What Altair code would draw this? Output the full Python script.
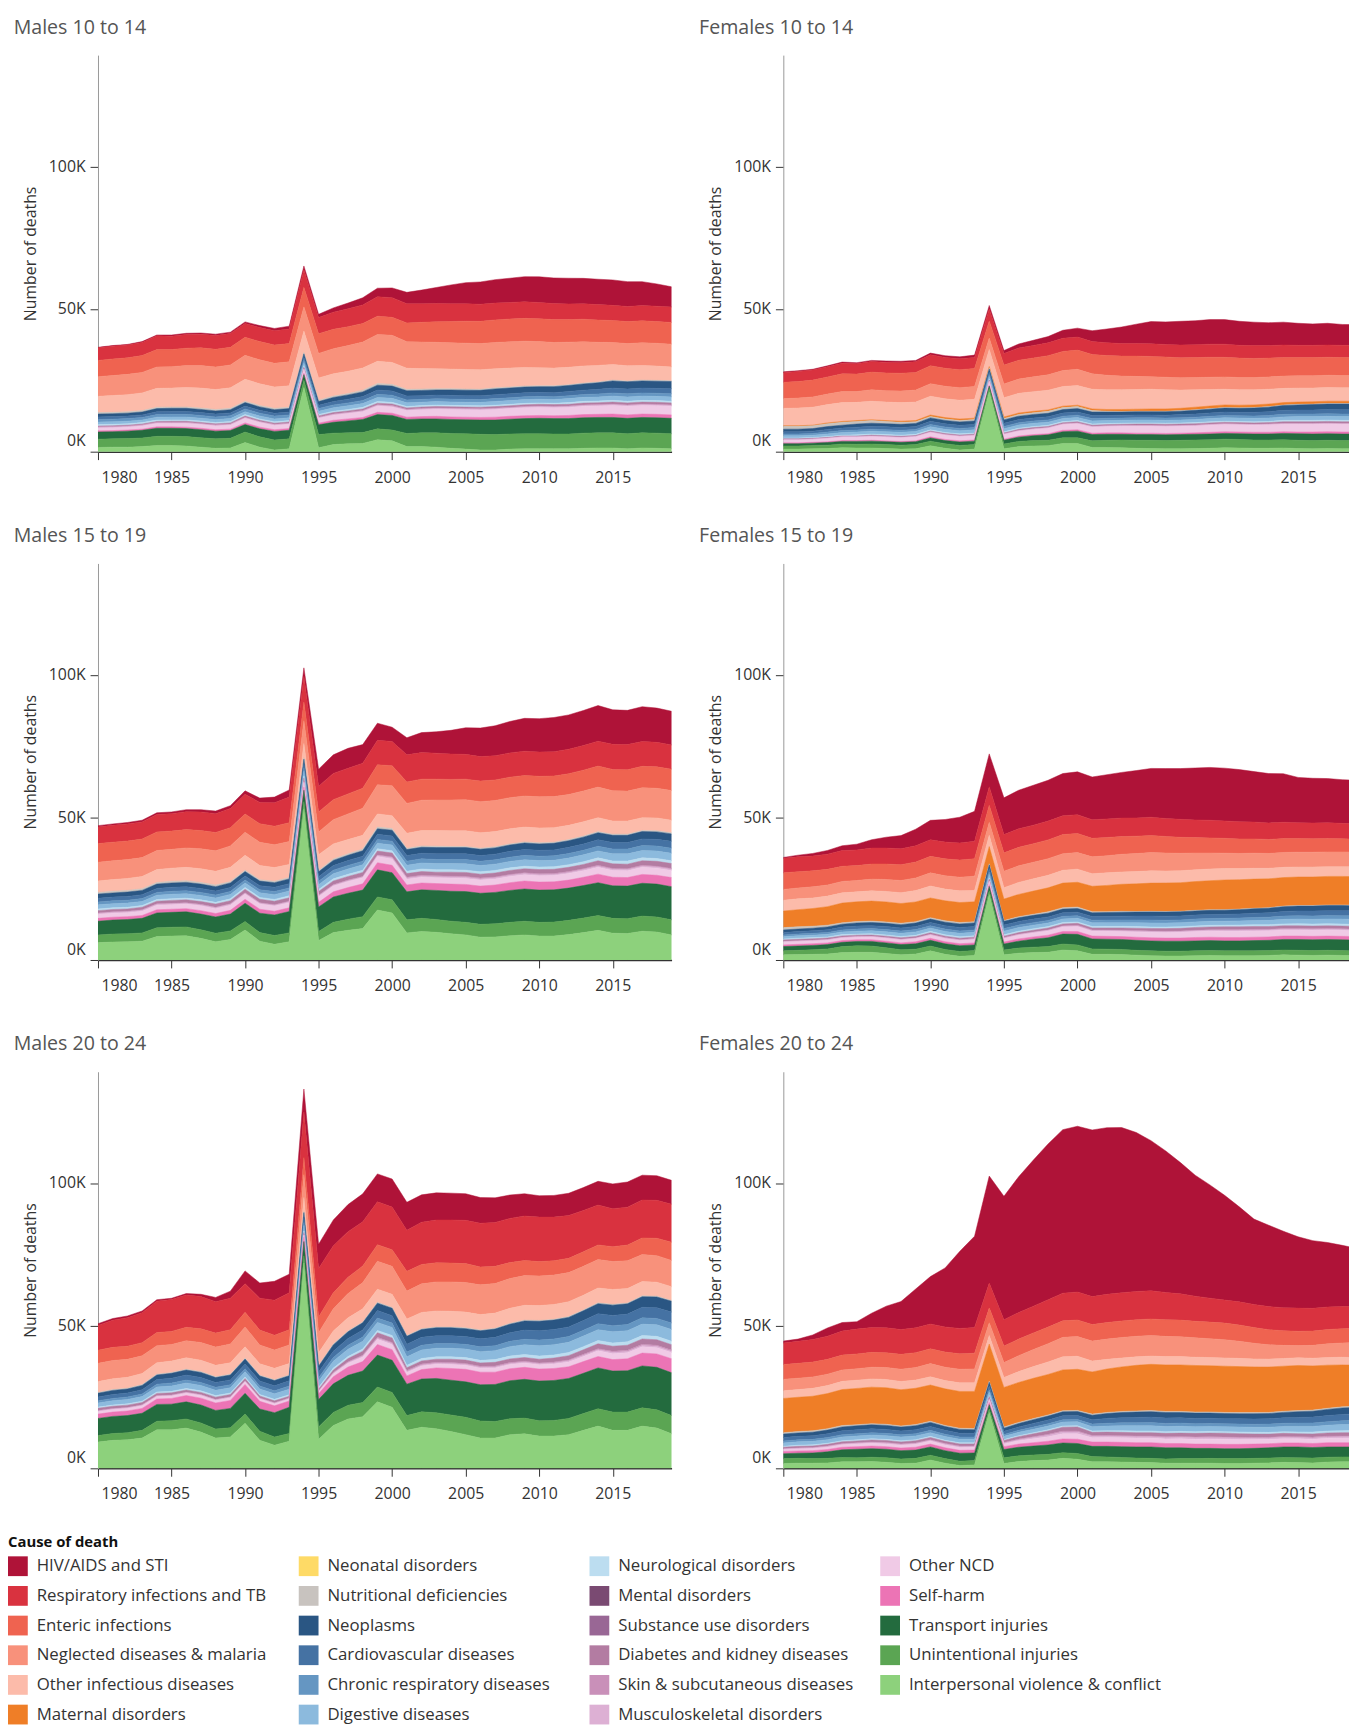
import altair as alt
import pandas as pd

YEARS = list(range(1980, 2020))
CAUSES = ["HIV/AIDS and STI", "Respiratory infections and TB", "Enteric infections",
          "Neglected diseases & malaria", "Other infectious diseases", "Maternal disorders",
          "Neonatal disorders", "Nutritional deficiencies", "Neoplasms", "Cardiovascular diseases",
          "Chronic respiratory diseases", "Digestive diseases", "Neurological disorders",
          "Mental disorders", "Substance use disorders", "Diabetes and kidney diseases",
          "Skin & subcutaneous diseases", "Musculoskeletal disorders", "Other NCD", "Self-harm",
          "Transport injuries", "Unintentional injuries", "Interpersonal violence & conflict"]
COLORS = ["#AF1338", "#D9323F", "#EF6350", "#F8917B", "#FCBBAA", "#EF7E27", "#FEDA66", "#C8C3BF",
          "#2A5683", "#4572A3", "#6596C2", "#8CBADD", "#BCDDF0", "#7A4A72", "#996795", "#B37CA2",
          "#C990B9", "#DDB0D4", "#F0CAE6", "#EC74B5", "#236B3E", "#5BA553", "#8DD17C"]

# ---------------- Males 10 to 14 (thousands) ----------------
MA_HIV = [0.2,0.2,0.2,0.3,0.3,0.4,0.4,0.4,0.5,0.5, 0.6,0.7,0.8,1.0,1.3,1.1,1.5,2.0,2.5,3.0, 3.4,4.0,4.8,5.6,6.6,7.4,7.8,8.2,8.5,8.8, 9.0,9.0,9.0,8.9,8.9,8.9,8.7,8.4,7.8,7.1]
MA_RESP = [4.4,4.5,4.5,4.6,4.8,4.7,4.8,4.8,4.8,4.8, 4.8,4.9,5.0,5.1,6.2,5.7,6.0,6.3,6.5,6.8, 6.9,6.7,6.5,6.4,6.2,6.1,6.0,5.9,5.8,5.8, 5.7,5.6,5.5,5.4,5.4,5.3,5.3,5.3,5.4,5.4]
MA_ENT = [5.7,5.8,5.8,5.9,6.1,6.0,6.1,6.2,6.2,6.2, 6.3,6.4,6.4,6.4,6.8,6.9,6.8,6.6,6.5,6.4, 6.3,6.6,6.9,7.2,7.5,7.7,7.8,7.9,8.0,8.0, 8.0,8.0,7.9,7.9,7.8,7.7,7.7,7.7,7.6,7.6]
MA_NTD = [6.9,7.0,7.1,7.2,7.5,7.5,7.7,7.9,7.9,8.0, 8.4,8.4,8.3,8.4,8.5,8.6,8.8,9.0,9.1,9.4, 9.5,9.3,9.3,9.3,9.2,9.2,9.2,9.2,9.2,9.2, 9.2,9.0,8.8,8.5,8.1,7.7,7.8,8.0,8.0,8.0]
MA_OI = [5.7,5.9,6.0,6.2,6.6,6.6,6.8,7.0,7.0,7.2, 7.7,7.6,7.5,7.5,7.5,7.8,7.8,7.8,7.8,7.8, 7.7,7.4,7.2,7.0,6.9,6.9,6.8,6.7,6.6,6.5, 6.3,6.2,6.1,6.0,5.8,5.5,5.3,5.1,5.0,4.8]
MA_NUT = [0.5,0.5,0.5,0.5,0.5,0.5,0.5,0.5,0.5,0.5, 0.5,0.5,0.5,0.5,0.5,0.5,0.5,0.5,0.6,0.6, 0.6,0.5,0.5,0.4,0.4,0.4,0.4,0.4,0.4,0.4, 0.3,0.3,0.3,0.3,0.3,0.3,0.3,0.3,0.3,0.3]
MA_NEO = [1.0,1.0,1.0,1.0,1.1,1.1,1.1,1.1,1.1,1.1, 1.2,1.2,1.2,1.2,1.2,1.3,1.4,1.5,1.6,1.7, 1.7,1.8,1.8,1.8,1.9,1.9,1.9,2.0,2.0,2.0, 2.0,2.1,2.1,2.2,2.3,2.5,2.5,2.5,2.5,2.5]
MA_CVD = [0.9,0.9,0.9,0.9,1.0,1.0,1.0,1.0,1.0,1.0, 1.0,1.0,1.0,1.0,1.0,1.1,1.2,1.3,1.4,1.5, 1.5,1.4,1.3,1.3,1.3,1.3,1.3,1.4,1.4,1.4, 1.4,1.4,1.5,1.5,1.6,1.7,1.7,1.7,1.7,1.8]
MA_CHR = [0.9,0.9,0.9,0.9,0.9,0.95,0.95,0.95,0.95,1.0, 1.0,1.0,1.0,1.0,1.0,1.0,1.0,1.0,1.1,1.1, 1.1,1.0,1.0,1.0,1.0,1.0,1.0,1.0,1.0,1.0, 1.0,1.0,1.0,1.0,1.1,1.1,1.1,1.1,1.1,1.1]
MA_DIG = [0.9,0.9,0.9,0.9,1.0,1.0,1.0,1.0,1.0,1.0, 1.0,1.0,1.0,1.0,1.0,1.1,1.2,1.3,1.3,1.4, 1.4,1.3,1.2,1.2,1.2,1.2,1.2,1.3,1.3,1.3, 1.3,1.3,1.4,1.4,1.4,1.5,1.5,1.5,1.5,1.5]
MA_NEURO = [0.5,0.5,0.5,0.5,0.5,0.5,0.5,0.5,0.5,0.5, 0.5,0.5,0.5,0.5,0.5,0.5,0.5,0.5,0.6,0.6, 0.6,0.5,0.5,0.5,0.5,0.5,0.5,0.5,0.5,0.5, 0.5,0.5,0.6,0.6,0.6,0.6,0.6,0.6,0.6,0.6]
MA_DIAB = [0.3,0.3,0.3,0.3,0.3,0.35,0.35,0.35,0.35,0.4, 0.4,0.4,0.4,0.4,0.4,0.45,0.5,0.5,0.5,0.55, 0.55,0.5,0.5,0.5,0.5,0.5,0.55,0.55,0.55,0.6, 0.6,0.6,0.6,0.65,0.65,0.7,0.7,0.7,0.7,0.7]
MA_SKIN = [0.2,0.2,0.2,0.2,0.2,0.2,0.2,0.2,0.2,0.2, 0.2,0.2,0.2,0.2,0.2,0.2,0.2,0.2,0.2,0.2, 0.2,0.2,0.2,0.2,0.2,0.2,0.2,0.2,0.2,0.2, 0.2,0.2,0.2,0.2,0.2,0.2,0.2,0.2,0.2,0.2]
MA_MSK = [0.2,0.2,0.2,0.2,0.2,0.2,0.2,0.2,0.2,0.2, 0.2,0.2,0.2,0.2,0.2,0.2,0.2,0.2,0.25,0.25, 0.25,0.25,0.25,0.25,0.25,0.25,0.25,0.25,0.25,0.25, 0.3,0.3,0.3,0.3,0.3,0.3,0.3,0.3,0.3,0.3]
MA_ONCD = [1.0,1.0,1.0,1.1,1.2,1.2,1.3,1.3,1.3,1.4, 1.6,1.6,1.5,1.5,1.3,1.7,1.8,1.9,2.0,2.2, 2.2,2.3,2.4,2.5,2.6,2.6,2.6,2.7,2.7,2.8, 2.8,2.8,2.8,2.9,2.9,3.0,3.0,3.0,3.0,3.0]
MA_SH = [0.4,0.4,0.4,0.4,0.5,0.5,0.5,0.5,0.5,0.5, 0.6,0.6,0.6,0.6,0.5,0.6,0.7,0.7,0.7,0.8, 0.8,0.8,0.8,0.9,0.9,0.9,0.9,1.0,1.0,1.0, 1.0,1.0,1.1,1.1,1.1,1.2,1.2,1.2,1.2,1.2]
MA_TR = [2.5,2.5,2.6,2.7,2.8,2.8,2.8,2.8,2.7,2.7, 2.6,2.8,3.0,3.0,2.0,3.4,3.8,4.2,4.6,5.0, 5.1,4.9,4.9,4.9,4.9,4.9,5.0,5.1,5.2,5.3, 5.4,5.4,5.4,5.4,5.4,5.4,5.4,5.4,5.4,5.4]
MA_UN = [2.9,2.9,3.0,3.0,3.2,3.2,3.3,3.3,3.3,3.4, 3.7,3.6,3.5,3.5,2.5,4.6,4.0,3.8,3.8,3.8, 3.8,4.6,4.8,5.0,5.2,5.4,5.5,5.4,5.3,5.3, 5.3,5.2,5.2,5.3,5.3,5.3,5.3,5.3,5.3,5.3]
MA_VI = [1.5,1.6,1.6,1.8,2.2,2.2,2.0,1.6,1.2,1.3, 3.2,1.6,0.6,1.0,22.5,1.4,2.5,2.8,2.9,4.2, 3.8,1.8,1.8,1.6,1.2,0.9,0.6,0.6,0.9,1.0, 1.0,1.0,1.0,1.2,1.3,1.3,1.0,1.3,1.2,1.0]

# ---------------- Females 10 to 14 ----------------
FA_HIV = [0.3,0.3,0.3,0.3,0.4,0.4,0.4,0.5,0.5,0.5, 0.6,0.6,0.7,0.8,1.2,1.0,1.4,1.8,2.2,2.8, 3.1,3.8,4.8,5.8,6.8,7.8,7.9,8.3,8.4,8.6, 8.6,8.4,8.2,8.0,8.0,7.7,7.5,7.6,7.3,7.2]
FA_RESP = [3.4,3.5,3.5,3.6,3.7,3.6,3.7,3.7,3.7,3.7, 3.8,3.8,3.8,3.9,4.2,4.1,4.3,4.4,4.5,4.6, 4.6,4.5,4.5,4.4,4.4,4.4,4.4,4.5,4.5,4.6, 4.6,4.5,4.5,4.4,4.4,4.3,4.3,4.3,4.3,4.3]
FA_ENT = [5.7,5.8,5.9,6.0,6.2,6.1,6.2,6.2,6.2,6.2, 6.3,6.3,6.3,6.3,6.0,6.6,6.6,6.6,6.7,6.7, 6.7,6.8,6.9,7.0,7.1,7.1,7.1,7.0,7.0,7.0, 6.9,6.8,6.7,6.6,6.5,6.4,6.4,6.3,6.3,6.3]
FA_NTD = [3.4,3.5,3.6,3.7,3.9,3.8,4.0,4.0,4.1,4.2, 4.4,4.4,4.4,4.5,4.0,4.8,5.0,5.2,5.4,5.6, 5.7,5.4,5.1,4.8,4.6,4.4,4.4,4.3,4.3,4.3, 4.3,4.3,4.3,4.3,4.3,4.3,4.3,4.3,4.3,4.3]
FA_OI = [6.1,6.2,6.3,6.4,6.6,6.4,6.5,6.5,6.5,6.5, 6.6,6.6,6.6,6.6,6.0,6.8,6.9,6.9,6.9,6.9, 6.9,6.9,6.9,6.9,6.9,6.9,6.7,6.4,6.1,5.8, 5.5,5.4,5.3,5.2,5.0,4.9,4.8,4.8,4.7,4.7]
FA_MAT = [0.2,0.2,0.2,0.3,0.3,0.3,0.3,0.3,0.4,0.4, 0.5,0.5,0.5,0.5,0.4,0.5,0.5,0.5,0.5,0.5, 0.5,0.6,0.6,0.7,0.7,0.8,0.8,0.8,0.9,0.9, 0.9,0.9,0.9,0.9,0.8,0.8,0.8,0.8,0.8,0.8]
FA_NUT = [1.0,1.0,1.0,1.0,1.0,0.9,0.9,0.8,0.7,0.6, 0.5,0.5,0.5,0.5,0.5,0.5,0.6,0.6,0.7,0.7, 0.7,0.5,0.3,0.2,0.2,0.2,0.2,0.2,0.2,0.2, 0.2,0.2,0.2,0.2,0.2,0.2,0.2,0.2,0.2,0.2]
FA_NEO = [0.9,0.9,0.9,1.0,1.0,1.1,1.1,1.1,1.1,1.1, 1.2,1.2,1.2,1.2,1.0,1.2,1.2,1.2,1.2,1.2, 1.2,1.2,1.2,1.1,1.1,1.1,1.2,1.2,1.3,1.3, 1.4,1.4,1.5,1.6,1.7,1.8,1.9,1.9,2.0,2.0]
FA_CVD = [0.8,0.8,0.8,0.9,0.9,1.0,1.0,1.0,1.0,1.0, 1.1,1.1,1.1,1.1,0.9,1.1,1.1,1.1,1.1,1.1, 1.1,1.1,1.0,1.0,1.0,1.0,1.0,1.1,1.1,1.2, 1.2,1.2,1.3,1.3,1.4,1.4,1.4,1.5,1.5,1.5]
FA_CHR = [0.6,0.6,0.6,0.7,0.7,0.7,0.7,0.7,0.7,0.7, 0.8,0.8,0.8,0.8,0.7,0.8,0.8,0.8,0.8,0.8, 0.8,0.8,0.8,0.8,0.8,0.8,0.8,0.8,0.8,0.8, 0.8,0.8,0.8,0.9,0.9,0.9,0.9,0.9,0.9,0.9]
FA_DIG = [0.8,0.8,0.8,0.9,0.9,1.0,1.0,1.0,1.0,1.0, 1.1,1.1,1.1,1.1,0.9,1.1,1.1,1.1,1.1,1.1, 1.1,1.1,1.0,1.0,1.0,1.0,1.0,1.0,1.1,1.1, 1.2,1.2,1.2,1.2,1.2,1.3,1.3,1.3,1.3,1.3]
FA_NEURO = [0.3,0.3,0.3,0.3,0.3,0.4,0.4,0.4,0.4,0.4, 0.4,0.4,0.4,0.4,0.3,0.4,0.4,0.4,0.4,0.4, 0.4,0.4,0.4,0.4,0.4,0.4,0.4,0.4,0.4,0.4, 0.4,0.4,0.4,0.4,0.5,0.5,0.5,0.5,0.5,0.5]
FA_DIAB = [0.2,0.2,0.2,0.2,0.2,0.2,0.3,0.3,0.3,0.3, 0.3,0.3,0.3,0.3,0.3,0.3,0.4,0.4,0.4,0.4, 0.4,0.4,0.4,0.4,0.5,0.5,0.5,0.5,0.5,0.5, 0.5,0.5,0.5,0.5,0.6,0.6,0.6,0.6,0.6,0.6]
FA_SKIN = [0.1,0.1,0.1,0.1,0.1,0.1,0.1,0.1,0.1,0.1, 0.1,0.1,0.1,0.1,0.1,0.1,0.1,0.1,0.1,0.1, 0.1,0.1,0.1,0.1,0.1,0.1,0.1,0.1,0.1,0.1, 0.1,0.1,0.1,0.1,0.1,0.1,0.1,0.1,0.1,0.1]
FA_MSK = [0.1,0.1,0.1,0.1,0.1,0.1,0.1,0.1,0.1,0.1, 0.15,0.15,0.15,0.15,0.15,0.15,0.15,0.15,0.15,0.15, 0.2,0.2,0.2,0.2,0.2,0.2,0.2,0.2,0.2,0.2, 0.2,0.2,0.2,0.2,0.2,0.2,0.2,0.2,0.2,0.2]
FA_ONCD = [1.0,1.0,1.0,1.1,1.2,1.2,1.3,1.3,1.3,1.4, 1.5,1.5,1.5,1.5,1.3,1.6,1.7,1.8,1.9,2.0, 2.1,2.1,2.2,2.3,2.4,2.4,2.4,2.4,2.4,2.5, 2.5,2.5,2.5,2.6,2.6,2.7,2.7,2.7,2.7,2.7]
FA_SH = [0.3,0.3,0.3,0.3,0.3,0.3,0.3,0.3,0.3,0.3, 0.4,0.4,0.4,0.4,0.3,0.4,0.4,0.4,0.4,0.5, 0.5,0.5,0.5,0.5,0.5,0.5,0.5,0.5,0.5,0.6, 0.6,0.6,0.6,0.6,0.6,0.6,0.7,0.7,0.7,0.7]
FA_TR = [0.8,0.8,0.8,0.9,0.9,1.0,1.0,1.0,1.0,1.0, 1.1,1.1,1.2,1.2,0.8,1.3,1.5,1.7,1.9,2.1, 2.3,2.2,2.1,2.0,2.0,2.0,2.0,2.0,2.0,2.0, 2.0,2.0,2.1,2.1,2.2,2.3,2.3,2.3,2.3,2.3]
FA_UN = [1.1,1.1,1.2,1.2,1.3,1.3,1.4,1.4,1.4,1.5, 1.6,1.6,1.6,1.6,1.2,1.7,1.8,1.9,1.9,2.0, 2.0,2.3,2.5,2.7,2.8,2.9,2.9,3.0,3.0,3.0, 3.0,3.0,2.9,2.9,2.9,2.9,2.9,2.9,2.9,2.9]
FA_VI = [0.9,0.9,1.0,1.1,1.4,1.3,1.3,1.1,0.9,1.0, 2.1,1.2,0.6,0.9,21.0,1.0,1.8,2.0,2.1,2.9, 2.9,1.5,1.5,1.4,1.2,1.1,1.0,1.0,1.1,1.2, 1.4,1.3,1.2,1.2,1.3,1.1,1.0,1.1,1.0,1.0]

# ---------------- Males 15 to 19 ----------------
MB_HIV = [0.5,0.5,0.5,0.6,0.6,0.6,0.7,0.8,0.9,1.0, 1.2,1.5,2.0,2.5,3.0,6.0,6.5,7.0,6.5,6.0, 5.0,6.0,7.0,7.5,8.3,9.3,10.0,10.5,11.0,11.5, 11.7,12.0,12.0,12.3,12.5,12.1,12.0,12.2,12.0,11.8]
MB_RESP = [5.8,5.9,6.0,6.0,6.1,6.1,6.3,6.5,6.6,6.7, 6.9,7.5,8.2,9.0,9.0,9.0,9.2,9.0,8.8,8.6, 8.5,9.5,9.3,9.1,8.9,8.7,8.6,8.5,8.5,8.5, 8.5,8.5,8.6,8.6,8.7,8.8,8.8,8.7,8.6,8.5]
MB_ENT = [6.5,6.5,6.5,6.5,6.5,6.4,6.4,6.4,6.4,6.4, 6.4,6.5,6.5,6.6,6.5,7.0,7.0,7.0,7.0,7.0, 7.0,7.5,7.4,7.3,7.2,7.2,7.2,7.2,7.2,7.2, 7.2,7.2,7.3,7.3,7.4,7.5,7.5,7.5,7.5,7.5]
MB_NTD = [6.6,6.6,6.6,6.6,6.7,6.6,6.8,7.0,7.2,7.5, 8.1,8.1,8.0,8.0,8.0,8.0,8.5,9.0,9.5,10.2, 10.5,10.5,10.6,10.7,10.8,10.9,10.9,10.9,10.9,10.9, 10.9,10.9,10.8,10.8,10.7,10.6,10.5,10.5,10.4,10.4]
MB_OI = [4.0,4.1,4.2,4.3,4.5,4.6,4.7,4.8,4.8,5.0, 5.2,5.0,4.8,4.6,5.0,5.5,5.3,5.0,4.8,4.6, 4.5,5.2,5.4,5.5,5.5,5.5,5.4,5.3,5.3,5.2, 5.2,5.1,5.0,5.0,4.9,4.6,4.6,4.5,4.5,4.4]
MB_NUT = [0.6,0.6,0.6,0.6,0.6,0.6,0.6,0.6,0.6,0.5, 0.5,0.5,0.5,0.5,0.5,0.5,0.5,0.5,0.6,0.6, 0.6,0.5,0.5,0.5,0.4,0.4,0.4,0.4,0.4,0.4, 0.4,0.4,0.4,0.4,0.4,0.4,0.4,0.4,0.4,0.4]
MB_NEO = [1.45,1.45,1.5,1.5,1.5,1.5,1.5,1.5,1.5,1.55, 1.55,1.6,1.6,1.65,1.65,1.7,1.8,1.85,1.9,1.95, 2.0,2.1,2.1,2.15,2.15,2.2,2.2,2.2,2.2,2.25, 2.25,2.3,2.3,2.4,2.45,2.5,2.5,2.55,2.6,2.6]
MB_CVD = [1.3,1.3,1.35,1.35,1.4,1.4,1.4,1.4,1.4,1.4, 1.4,1.45,1.5,1.5,1.5,1.6,1.65,1.7,1.75,1.8, 1.85,1.95,1.95,2.0,2.0,2.0,2.0,2.0,2.05,2.05, 2.05,2.1,2.15,2.2,2.25,2.3,2.3,2.35,2.35,2.4]
MB_CHR = [1.0,1.0,1.0,1.0,1.0,1.05,1.05,1.05,1.05,1.05, 1.05,1.05,1.1,1.1,1.1,1.2,1.2,1.25,1.3,1.3, 1.35,1.45,1.45,1.45,1.45,1.5,1.5,1.5,1.5,1.55, 1.55,1.55,1.6,1.6,1.65,1.7,1.7,1.75,1.75,1.8]
MB_DIG = [1.45,1.45,1.45,1.45,1.5,1.55,1.55,1.55,1.55,1.55, 1.55,1.6,1.65,1.65,1.65,1.7,1.8,1.85,1.9,1.95, 2.0,2.1,2.1,2.15,2.15,2.2,2.2,2.2,2.25,2.25, 2.25,2.25,2.35,2.4,2.45,2.5,2.5,2.55,2.6,2.6]
MB_NEURO = [0.6,0.6,0.6,0.6,0.6,0.6,0.6,0.6,0.6,0.65, 0.65,0.65,0.65,0.7,0.7,0.7,0.75,0.75,0.75,0.8, 0.8,0.8,0.9,0.85,0.85,0.8,0.8,0.9,0.9,0.9, 0.9,0.9,0.9,0.95,1.0,1.0,1.1,1.0,1.0,1.0]
MB_DIAB = [0.8,0.8,0.8,0.9,0.9,1.0,1.0,1.0,1.1,1.1, 1.2,1.2,1.2,1.2,1.1,1.3,1.3,1.3,1.4,1.4, 1.4,1.3,1.3,1.3,1.4,1.4,1.4,1.4,1.4,1.4, 1.5,1.5,1.5,1.5,1.6,1.6,1.6,1.6,1.7,1.7]
MB_SKIN = [0.2,0.2,0.2,0.2,0.2,0.2,0.2,0.2,0.2,0.2, 0.2,0.2,0.2,0.2,0.2,0.2,0.2,0.2,0.2,0.2, 0.3,0.3,0.3,0.3,0.3,0.3,0.3,0.3,0.3,0.3, 0.3,0.3,0.3,0.3,0.3,0.3,0.3,0.3,0.3,0.3]
MB_MSK = [0.3,0.3,0.3,0.3,0.3,0.3,0.3,0.3,0.3,0.3, 0.3,0.3,0.3,0.3,0.3,0.3,0.3,0.3,0.3,0.3, 0.4,0.4,0.4,0.4,0.4,0.4,0.4,0.4,0.4,0.4, 0.4,0.4,0.4,0.4,0.4,0.4,0.4,0.4,0.4,0.4]
MB_ONCD = [1.4,1.4,1.4,1.5,1.6,1.6,1.6,1.7,1.7,1.8, 1.8,1.8,1.8,1.8,1.6,2.0,2.0,2.1,2.1,2.2, 2.2,2.0,2.0,2.0,2.1,2.1,2.1,2.1,2.2,2.2, 2.2,2.2,2.3,2.3,2.4,2.4,2.4,2.5,2.5,2.5]
MB_SH = [1.0,1.0,1.0,1.0,1.1,1.1,1.1,1.2,1.2,1.3, 1.4,1.4,1.3,1.3,1.1,1.6,1.8,2.0,2.2,2.5, 2.6,2.4,2.4,2.4,2.5,2.5,2.5,2.6,2.7,2.8, 2.8,2.8,2.8,2.9,3.0,3.0,3.0,3.1,3.1,3.2]
MB_TR = [4.8,4.9,5.0,5.1,5.2,5.2,5.3,5.5,5.7,5.9, 6.4,6.8,7.2,7.5,4.0,8.6,8.9,9.1,9.3,9.5, 9.5,9.8,10.0,10.2,10.5,10.8,10.9,11.0,11.2,11.3, 11.3,11.3,11.3,11.4,11.5,11.4,11.4,11.5,11.5,11.6]
MB_UN = [2.7,2.8,2.8,2.9,3.1,3.1,3.1,3.0,3.0,3.0, 3.0,3.0,3.1,3.1,2.5,3.2,3.6,3.9,4.2,4.6, 4.6,4.6,4.6,4.5,4.4,4.4,4.5,4.6,4.7,4.8, 4.8,4.9,5.0,5.1,5.2,5.2,5.2,5.3,5.3,5.3]
MB_VI = [6.1,6.3,6.4,6.6,8.2,8.4,8.5,7.6,6.4,7.2, 10.5,6.6,5.5,6.4,53.0,6.8,9.6,10.4,11.0,17.5, 16.5,9.5,10.0,9.7,9.2,8.8,8.0,8.1,8.5,8.8, 8.4,8.4,8.9,9.6,10.4,9.4,9.3,10.1,9.8,8.8]

# ---------------- Females 15 to 19 ----------------
FB_HIV = [0.3,0.6,0.9,1.3,1.7,2.0,2.9,3.8,4.6,5.8, 6.8,7.9,9.0,10.5,11.5,12.9,13.5,14.0,14.3,14.8, 15.0,15.0,15.5,16.0,16.6,17.1,17.5,17.8,18.2,18.5, 18.5,18.3,17.7,17.3,17.0,15.9,15.7,15.5,15.3,15.2]
FB_RESP = [5.1,5.2,5.2,5.3,5.5,5.5,5.6,5.6,5.6,5.7, 5.8,5.9,6.0,6.1,6.5,6.4,6.5,6.5,6.6,6.6, 6.6,6.5,6.5,6.5,6.4,6.4,6.3,6.3,6.2,6.2, 6.1,6.0,5.9,5.8,5.7,5.5,5.5,5.5,5.4,5.4]
FB_ENT = [5.8,5.7,5.6,5.5,5.3,5.2,5.3,5.4,5.5,5.6, 5.8,5.9,6.0,6.1,6.0,6.4,6.5,6.5,6.6,6.7, 6.7,6.5,6.4,6.2,6.1,6.0,5.8,5.6,5.4,5.3, 5.2,5.1,5.0,4.9,4.9,4.8,4.7,4.7,4.6,4.6]
FB_NTD = [3.8,3.8,3.9,3.9,4.0,4.0,4.1,4.2,4.3,4.4, 4.6,4.7,4.8,5.0,4.5,5.8,5.8,5.8,5.8,5.8, 5.8,5.9,6.0,6.2,6.3,6.4,6.3,6.1,5.9,5.6, 5.4,5.3,5.3,5.2,5.2,5.2,5.2,5.2,5.2,5.2]
FB_OI = [3.8,3.8,3.7,3.7,3.6,3.5,3.6,3.7,3.8,4.0, 4.2,4.1,4.1,4.0,4.0,4.0,4.2,4.3,4.4,4.5, 4.6,4.4,4.4,4.3,4.3,4.3,4.2,4.2,4.1,4.1, 4.0,3.9,3.8,3.7,3.6,3.5,3.5,3.4,3.4,3.4]
FB_MAT = [5.8,6.0,6.2,6.5,6.9,6.9,7.0,7.0,6.9,6.9, 6.9,7.0,7.0,7.0,6.0,7.5,7.8,8.1,8.4,8.6, 8.7,8.9,9.2,9.5,9.7,9.9,10.0,10.0,10.1,10.2, 10.4,10.3,10.2,10.1,10.0,10.0,10.0,10.0,10.0,10.0]
FB_NUT = [0.8,0.8,0.7,0.6,0.5,0.5,0.5,0.5,0.5,0.5, 0.5,0.5,0.5,0.4,0.4,0.3,0.4,0.4,0.5,0.5, 0.5,0.4,0.3,0.3,0.2,0.2,0.2,0.2,0.2,0.2, 0.2,0.2,0.2,0.2,0.2,0.2,0.2,0.2,0.2,0.2]
FB_NEO = [0.9,0.9,0.9,1.0,1.0,1.1,1.1,1.1,1.15,1.2, 1.2,1.2,1.25,1.25,1.25,1.3,1.3,1.3,1.3,1.3, 1.3,1.3,1.35,1.4,1.4,1.45,1.45,1.45,1.45,1.45, 1.45,1.5,1.55,1.6,1.7,1.7,1.75,1.8,1.8,1.8]
FB_CVD = [0.85,0.85,0.9,0.95,1.0,1.05,1.05,1.1,1.1,1.1, 1.15,1.2,1.2,1.2,1.2,1.25,1.25,1.25,1.25,1.25, 1.25,1.3,1.3,1.3,1.35,1.4,1.4,1.4,1.4,1.4, 1.4,1.45,1.5,1.55,1.6,1.65,1.7,1.7,1.75,1.75]
FB_CHR = [0.6,0.6,0.65,0.65,0.7,0.75,0.75,0.75,0.8,0.8, 0.8,0.85,0.85,0.85,0.85,0.9,0.9,0.9,0.9,0.9, 0.9,0.9,0.9,0.95,0.95,1.0,1.0,1.0,1.0,1.0, 1.0,1.0,1.05,1.1,1.15,1.2,1.2,1.2,1.2,1.2]
FB_DIG = [0.8,0.85,0.85,0.9,0.95,1.0,1.05,1.1,1.1,1.15, 1.15,1.15,1.2,1.2,1.2,1.25,1.25,1.25,1.25,1.25, 1.25,1.3,1.3,1.3,1.4,1.4,1.4,1.4,1.4,1.4, 1.4,1.45,1.5,1.55,1.6,1.65,1.65,1.7,1.75,1.75]
FB_NEURO = [0.35,0.4,0.4,0.4,0.45,0.4,0.45,0.45,0.45,0.45, 0.5,0.5,0.5,0.5,0.5,0.5,0.5,0.5,0.5,0.5, 0.5,0.5,0.55,0.55,0.55,0.55,0.55,0.55,0.55,0.55, 0.55,0.6,0.6,0.6,0.65,0.7,0.7,0.7,0.7,0.7]
FB_DIAB = [0.5,0.5,0.5,0.5,0.45,0.45,0.45,0.5,0.5,0.5, 0.5,0.5,0.5,0.5,0.5,0.5,0.55,0.6,0.65,0.7, 0.7,0.7,0.75,0.8,0.85,0.9,0.9,0.95,0.95,1.0, 1.0,1.0,1.0,0.95,0.95,0.95,0.95,0.95,0.95,0.95]
FB_SKIN = [0.1,0.1,0.1,0.1,0.1,0.1,0.1,0.1,0.1,0.1, 0.15,0.15,0.15,0.15,0.15,0.15,0.15,0.15,0.15,0.15, 0.2,0.2,0.2,0.2,0.2,0.2,0.2,0.2,0.2,0.2, 0.25,0.25,0.25,0.25,0.25,0.25,0.25,0.25,0.25,0.25]
FB_MSK = [0.15,0.15,0.15,0.15,0.15,0.15,0.15,0.15,0.15,0.15, 0.2,0.2,0.2,0.2,0.2,0.2,0.2,0.2,0.2,0.2, 0.25,0.25,0.25,0.25,0.25,0.25,0.25,0.25,0.25,0.25, 0.3,0.3,0.3,0.3,0.3,0.3,0.3,0.3,0.3,0.3]
FB_ONCD = [1.0,1.0,1.0,0.95,0.95,0.9,0.95,1.0,1.05,1.1, 1.1,1.1,1.1,1.15,1.1,1.2,1.3,1.4,1.5,1.6, 1.7,1.7,1.75,1.8,1.85,1.9,1.95,2.0,2.1,2.15, 2.2,2.2,2.2,2.15,2.1,2.1,2.1,2.1,2.1,2.1]
FB_SH = [0.6,0.6,0.6,0.6,0.6,0.6,0.6,0.6,0.6,0.7, 0.7,0.7,0.7,0.7,0.6,0.7,0.8,0.8,0.9,0.9, 1.0,1.0,1.0,1.0,1.1,1.1,1.1,1.1,1.2,1.2, 1.2,1.2,1.2,1.2,1.2,1.2,1.2,1.2,1.2,1.2]
FB_TR = [1.5,1.5,1.5,1.5,1.5,1.5,1.6,1.7,1.8,1.9, 2.0,2.0,2.0,2.0,1.5,2.1,2.4,2.8,3.1,3.5, 3.7,3.5,3.5,3.5,3.5,3.5,3.5,3.5,3.5,3.5, 3.5,3.5,3.6,3.6,3.7,3.8,3.8,3.8,3.8,3.8]
FB_UN = [1.4,1.5,1.6,1.8,2.1,2.3,2.2,2.0,1.8,1.7, 1.7,1.7,1.7,1.7,1.3,1.7,1.8,1.9,2.0,2.1, 2.1,1.9,1.8,1.8,1.7,1.7,1.7,1.7,1.7,1.7, 1.7,1.7,1.7,1.7,1.7,1.7,1.7,1.7,1.7,1.7]
FB_VI = [1.8,1.9,2.0,2.1,2.6,2.7,2.7,2.3,1.8,2.1, 3.2,2.0,1.3,1.6,23.0,1.8,2.4,2.6,2.7,3.5, 3.2,2.0,2.0,1.9,1.7,1.5,1.4,1.4,1.5,1.6, 1.5,1.5,1.5,1.6,1.8,1.7,1.6,1.7,1.6,1.5]

# ---------------- Males 20 to 24 ----------------
MC_HIV = [0.6,0.6,0.6,0.6,0.5,0.4,0.5,0.8,1.5,2.5, 4.5,5.3,6.6,6.5,8.0,8.5,9.0,9.5,9.8,9.8, 9.8,9.8,9.6,9.5,9.4,9.3,9.0,8.6,8.2,7.8, 7.5,7.6,7.8,8.0,8.3,8.7,8.8,8.7,8.6,8.4]
MC_RESP = [8.7,9.5,10.0,10.5,11.0,11.2,11.3,11.3,11.0,11.0, 10.0,11.2,12.3,13.0,16.0,17.0,16.5,16.0,15.5,15.0, 15.0,14.4,14.8,15.0,15.1,15.2,15.3,15.4,15.5,15.6, 15.6,15.3,15.0,14.5,14.0,13.3,13.3,13.3,13.3,13.3]
MC_ENT = [4.6,4.6,4.6,4.6,4.6,4.6,4.7,4.8,4.9,5.0, 5.2,5.2,5.2,5.3,6.0,5.5,5.6,5.7,5.8,5.8, 5.8,6.9,6.8,6.7,6.6,6.6,6.3,6.0,5.6,5.3, 5.0,5.0,5.0,5.1,5.1,5.2,5.5,5.8,6.1,6.4]
MC_NTD = [6.4,6.4,6.3,6.2,6.0,5.8,6.0,6.2,6.4,6.6, 6.9,6.6,6.4,6.5,8.0,7.0,7.8,8.5,9.2,9.8, 9.8,9.8,10.0,10.2,10.3,10.4,10.4,10.4,10.4,10.4, 10.4,10.3,10.2,10.1,10.0,9.8,9.7,9.5,9.3,9.2]
MC_OI = [3.8,3.8,3.8,3.9,4.0,4.0,4.0,4.0,4.0,4.0, 4.0,4.0,4.0,4.0,5.0,4.5,4.6,4.6,4.6,4.6, 4.6,5.8,5.7,5.6,5.5,5.5,5.4,5.3,5.3,5.2, 5.2,5.2,5.2,5.2,5.2,5.2,5.1,5.0,4.9,4.8]
MC_NUT = [0.3,0.3,0.3,0.3,0.3,0.3,0.3,0.3,0.3,0.3, 0.3,0.3,0.3,0.3,0.3,0.3,0.3,0.3,0.3,0.3, 0.3,0.3,0.3,0.3,0.3,0.3,0.3,0.3,0.3,0.3, 0.3,0.3,0.3,0.3,0.3,0.3,0.3,0.3,0.3,0.3]
MC_NEO = [1.3,1.4,1.4,1.5,1.6,1.7,1.75,1.75,1.7,1.7, 1.7,1.75,1.8,1.8,1.75,2.0,2.2,2.35,2.5,2.6, 2.6,2.75,2.75,2.75,2.75,2.75,2.8,2.9,3.0,3.2, 3.3,3.3,3.35,3.4,3.5,3.6,3.6,3.7,3.75,3.8]
MC_CVD = [1.3,1.4,1.4,1.5,1.6,1.7,1.75,1.75,1.7,1.7, 1.7,1.75,1.8,1.8,1.75,2.0,2.2,2.35,2.5,2.6, 2.6,2.75,2.75,2.75,2.75,2.75,2.8,2.9,3.0,3.2, 3.3,3.3,3.35,3.4,3.5,3.6,3.6,3.7,3.75,3.8]
MC_CHR = [0.8,0.8,0.85,0.9,1.0,1.05,1.05,1.05,1.05,1.05, 1.05,1.05,1.05,1.1,1.05,1.2,1.3,1.4,1.5,1.55, 1.55,1.65,1.65,1.65,1.65,1.65,1.7,1.75,1.85,1.9, 2.0,2.0,2.0,2.05,2.1,2.15,2.2,2.2,2.25,2.3]
MC_DIG = [1.45,1.5,1.55,1.6,1.75,1.85,1.9,1.9,1.85,1.85, 1.85,1.9,1.9,1.95,1.9,2.15,2.4,2.55,2.65,2.8, 2.8,3.0,3.0,3.0,3.0,3.0,3.05,3.15,3.3,3.45, 3.6,3.6,3.6,3.7,3.8,3.9,3.9,4.0,4.05,4.1]
MC_NEURO = [0.4,0.45,0.45,0.5,0.5,0.55,0.55,0.55,0.55,0.55, 0.55,0.55,0.55,0.55,0.55,0.65,0.7,0.75,0.8,0.85, 0.85,0.85,0.85,0.85,0.85,0.85,0.9,0.95,1.0,1.05, 1.1,1.1,1.1,1.1,1.15,1.15,1.2,1.2,1.2,1.2]
MC_DIAB = [0.8,0.8,0.8,0.8,0.75,0.75,0.75,0.75,0.8,0.8, 0.8,0.7,0.65,0.6,0.6,0.6,0.9,1.1,1.4,1.6, 1.6,1.0,1.1,1.1,1.2,1.2,1.2,1.3,1.3,1.3, 1.3,1.4,1.5,1.6,1.7,1.8,1.8,1.9,1.9,1.9]
MC_SKIN = [0.15,0.15,0.15,0.15,0.15,0.15,0.15,0.15,0.15,0.15, 0.15,0.15,0.15,0.15,0.15,0.15,0.2,0.25,0.3,0.3, 0.3,0.3,0.3,0.3,0.3,0.3,0.3,0.3,0.3,0.3, 0.3,0.3,0.3,0.35,0.35,0.35,0.4,0.4,0.4,0.4]
MC_MSK = [0.2,0.2,0.2,0.2,0.2,0.2,0.2,0.2,0.2,0.2, 0.2,0.2,0.2,0.2,0.2,0.2,0.25,0.3,0.35,0.4, 0.4,0.35,0.35,0.35,0.35,0.35,0.35,0.35,0.35,0.35, 0.35,0.35,0.4,0.4,0.4,0.45,0.45,0.45,0.45,0.45]
MC_ONCD = [0.9,0.9,0.9,0.9,0.85,0.85,0.85,0.9,0.9,0.9, 0.9,0.8,0.75,0.7,0.7,0.7,1.0,1.3,1.6,1.8, 1.8,1.2,1.3,1.3,1.4,1.4,1.4,1.5,1.5,1.5, 1.5,1.6,1.7,1.8,2.0,2.1,2.1,2.2,2.2,2.2]
MC_SH = [1.5,1.5,1.6,1.7,1.9,2.0,2.2,2.4,2.6,2.8, 3.1,2.7,2.4,2.2,1.5,2.0,2.5,2.9,3.3,3.7, 3.7,2.9,3.3,3.7,4.1,4.4,4.4,4.3,4.2,4.2, 4.2,4.2,4.1,4.1,4.0,4.0,4.2,4.5,4.7,4.9]
MC_TR = [6.0,6.0,6.0,6.0,5.9,5.8,6.0,6.3,6.5,6.8, 7.3,7.8,8.5,9.2,5.0,9.6,10.0,10.5,11.0,11.2, 11.3,11.0,11.5,12.0,12.2,12.4,12.7,13.0,13.3,13.6, 13.9,14.0,14.0,14.1,14.3,14.4,14.5,14.7,14.9,15.0]
MC_UN = [2.3,2.4,2.5,2.7,3.0,3.2,3.2,3.2,3.2,3.2, 3.2,3.2,2.9,2.7,2.5,4.3,4.6,4.8,5.0,5.2, 5.2,5.2,5.4,5.6,5.8,6.1,6.0,5.8,5.6,5.5, 5.4,5.5,5.7,5.9,6.1,6.4,6.4,6.4,6.4,6.4]
MC_VI = [9.2,9.8,10.0,10.6,13.5,13.5,14.1,12.7,10.6,11.0, 15.8,9.8,8.1,9.5,72.0,10.2,15.0,17.3,18.1,23.3, 21.4,13.3,14.4,13.9,12.9,11.8,10.6,10.6,11.8,12.1, 11.3,11.3,11.8,13.3,14.8,13.3,13.3,14.8,14.1,12.1]

# ---------------- Females 20 to 24 ----------------
FC_HIV = [0.7,0.8,1.6,2.9,3.0,2.6,5.0,7.6,9.8,13.6, 16.6,20.7,27.0,32.0,37.5,43.3,47.6,51.2,54.6,57.3, 58.1,58.4,58.4,57.9,55.7,52.6,49.6,46.0,42.4,39.7, 36.7,33.3,29.9,28.5,26.8,25.0,23.7,22.6,21.4,20.4]
FC_RESP = [7.5,7.7,7.9,8.1,8.4,8.7,8.7,8.7,8.7,8.7, 8.7,8.8,8.9,9.0,8.7,9.2,9.3,9.4,9.6,9.7, 9.8,9.8,9.9,9.9,9.9,9.9,9.6,9.2,8.8,8.4, 8.1,8.1,8.1,8.1,8.1,8.1,8.0,7.9,7.8,7.7]
FC_ENT = [5.2,5.2,5.2,5.2,5.2,5.2,5.2,5.2,5.2,5.2, 5.2,5.3,5.4,5.5,5.2,5.8,5.8,5.8,5.8,5.8, 5.8,5.8,5.8,5.8,5.8,5.8,5.8,5.8,5.8,5.8, 5.8,5.7,5.5,5.3,5.1,5.0,5.0,5.0,5.0,5.0]
FC_NTD = [4.0,4.0,4.0,4.0,4.0,4.0,4.1,4.2,4.3,4.4, 4.6,4.7,4.8,4.9,4.5,5.2,5.6,6.0,6.4,6.8, 6.9,7.0,7.1,7.2,7.2,7.2,7.1,7.0,6.8,6.6, 6.4,6.0,5.5,5.0,4.6,4.3,4.5,4.8,5.0,5.2]
FC_OI = [2.7,2.7,2.8,2.8,2.9,2.9,2.9,2.9,2.9,2.9, 2.9,2.9,3.0,3.0,3.0,3.5,3.8,4.1,4.4,4.6, 4.6,3.8,3.4,3.1,3.0,2.9,2.9,2.9,2.9,2.9, 2.9,2.9,2.8,2.8,2.7,2.7,2.7,2.7,2.7,2.7]
FC_MAT = [12.0,12.0,12.1,12.3,12.6,12.7,12.8,12.8,12.7,12.7, 12.7,12.8,12.9,13.0,13.0,13.9,14.0,14.1,14.2,14.3, 14.4,14.8,15.2,15.6,16.0,16.2,16.3,16.3,16.3,16.2, 16.2,16.1,16.0,15.9,15.8,15.8,15.5,15.1,14.7,14.3]
FC_NUT = [0.5,0.5,0.5,0.5,0.5,0.4,0.4,0.4,0.4,0.4, 0.4,0.4,0.4,0.4,0.4,0.4,0.4,0.4,0.4,0.4, 0.4,0.4,0.4,0.4,0.4,0.4,0.4,0.4,0.4,0.4, 0.4,0.4,0.4,0.4,0.4,0.4,0.4,0.4,0.4,0.4]
FC_NEO = [1.2,1.2,1.25,1.3,1.35,1.4,1.4,1.4,1.35,1.4, 1.4,1.35,1.35,1.3,1.3,1.1,1.2,1.3,1.35,1.4, 1.4,1.55,1.7,1.8,1.85,1.9,1.9,1.85,1.85,1.8, 1.8,1.8,1.85,1.85,1.9,2.0,2.05,2.15,2.25,2.3]
FC_CVD = [1.2,1.2,1.25,1.3,1.35,1.4,1.4,1.4,1.35,1.4, 1.4,1.35,1.35,1.3,1.3,1.1,1.2,1.3,1.35,1.4, 1.4,1.55,1.7,1.8,1.85,1.9,1.9,1.85,1.85,1.8, 1.8,1.8,1.85,1.85,1.9,2.0,2.05,2.15,2.25,2.3]
FC_CHR = [0.7,0.7,0.7,0.75,0.8,0.8,0.8,0.8,0.8,0.8, 0.8,0.8,0.75,0.75,0.75,0.65,0.7,0.75,0.8,0.8, 0.8,0.9,1.0,1.05,1.1,1.1,1.1,1.1,1.05,1.05, 1.05,1.05,1.05,1.1,1.1,1.15,1.2,1.25,1.3,1.35]
FC_DIG = [1.15,1.2,1.2,1.25,1.3,1.3,1.3,1.3,1.3,1.3, 1.3,1.3,1.25,1.25,1.25,1.1,1.15,1.2,1.3,1.35, 1.35,1.5,1.6,1.75,1.8,1.85,1.8,1.8,1.75,1.75, 1.7,1.75,1.75,1.8,1.85,1.95,2.0,2.05,2.15,2.2]
FC_NEURO = [0.35,0.4,0.4,0.4,0.4,0.4,0.4,0.4,0.4,0.4, 0.4,0.4,0.4,0.4,0.4,0.35,0.35,0.4,0.4,0.45, 0.45,0.5,0.5,0.55,0.6,0.6,0.6,0.6,0.6,0.6, 0.55,0.6,0.6,0.6,0.6,0.6,0.65,0.65,0.7,0.75]
FC_DIAB = [0.5,0.55,0.55,0.6,0.65,0.65,0.7,0.7,0.7,0.75, 0.75,0.75,0.75,0.7,0.65,0.7,0.85,1.0,1.2,1.35, 1.4,1.1,1.15,1.15,1.15,1.15,1.2,1.2,1.25,1.3, 1.3,1.25,1.2,1.1,1.1,1.05,1.1,1.1,1.15,1.15]
FC_SKIN = [0.15,0.15,0.15,0.15,0.15,0.2,0.2,0.2,0.2,0.2, 0.2,0.2,0.2,0.2,0.2,0.2,0.25,0.3,0.3,0.35, 0.35,0.3,0.3,0.3,0.3,0.3,0.3,0.3,0.3,0.3, 0.3,0.3,0.3,0.3,0.3,0.3,0.3,0.3,0.3,0.3]
FC_MSK = [0.15,0.2,0.2,0.25,0.25,0.25,0.3,0.3,0.3,0.3, 0.3,0.3,0.3,0.3,0.3,0.3,0.3,0.4,0.5,0.55, 0.6,0.45,0.45,0.45,0.45,0.45,0.45,0.5,0.5,0.5, 0.5,0.5,0.45,0.45,0.45,0.45,0.45,0.45,0.45,0.45]
FC_ONCD = [0.7,0.7,0.75,0.8,0.85,0.9,0.95,0.95,0.95,1.0, 1.05,1.0,1.0,0.95,0.9,0.95,1.2,1.4,1.6,1.85, 1.95,1.55,1.6,1.6,1.6,1.6,1.6,1.65,1.7,1.75, 1.8,1.7,1.6,1.55,1.5,1.45,1.5,1.55,1.6,1.6]
FC_SH = [0.8,0.8,0.8,0.8,0.9,0.9,0.9,0.9,0.9,1.0, 1.0,1.0,1.0,1.0,0.8,1.0,1.1,1.2,1.3,1.4, 1.5,1.5,1.5,1.5,1.5,1.5,1.5,1.5,1.5,1.5, 1.5,1.5,1.5,1.4,1.4,1.4,1.4,1.5,1.5,1.5]
FC_TR = [1.7,1.8,2.0,2.3,2.7,3.0,3.0,3.0,2.9,2.9, 2.9,2.8,2.8,2.7,1.5,2.9,3.0,3.1,3.3,3.4, 3.5,3.6,3.7,3.8,3.9,4.0,3.9,3.8,3.6,3.5, 3.5,3.5,3.5,3.6,3.7,3.8,3.7,3.6,3.5,3.5]
FC_UN = [1.7,1.7,1.6,1.6,1.5,1.4,1.5,1.6,1.6,1.7, 1.7,1.6,1.5,1.5,1.2,2.0,2.0,2.0,2.0,2.0, 2.0,1.8,1.7,1.6,1.5,1.5,1.5,1.6,1.6,1.7, 1.7,1.7,1.7,1.7,1.7,1.7,1.7,1.7,1.7,1.7]
FC_VI = [1.7,1.8,1.8,1.9,2.3,2.3,2.4,2.1,1.7,1.8, 2.9,1.8,1.0,1.2,19.6,1.7,2.4,2.7,2.9,3.5, 3.2,2.3,2.3,2.2,2.1,2.0,1.8,1.8,1.8,1.8, 1.7,1.7,1.8,1.9,2.1,2.0,1.9,2.2,2.3,2.3]


def panel_series(p):
    g = globals()
    keys = [("HIV", 0), ("RESP", 1), ("ENT", 2), ("NTD", 3), ("OI", 4), ("MAT", 5),
            ("NUT", 7), ("NEO", 8), ("CVD", 9), ("CHR", 10), ("DIG", 11), ("NEURO", 12),
            ("DIAB", 15), ("SKIN", 16), ("MSK", 17), ("ONCD", 18), ("SH", 19),
            ("TR", 20), ("UN", 21), ("VI", 22)]
    out = {}
    for k, idx in keys:
        name = f"{p}_{k}"
        if name in g:
            out[CAUSES[idx]] = g[name]
    return out


PANELS = [("MA", "Males 10 to 14", False), ("FA", "Females 10 to 14", True),
          ("MB", "Males 15 to 19", False), ("FB", "Females 15 to 19", True),
          ("MC", "Males 20 to 24", False), ("FC", "Females 20 to 24", True)]

rows = []
for key, title, right in PANELS:
    for cause, vals in panel_series(key).items():
        for yr, v in zip(YEARS, vals):
            rows.append({"panel": key, "year": yr, "cause": cause,
                         "rank": CAUSES.index(cause), "deaths": v * 1000})
df = pd.DataFrame(rows)

FONT = "Open Sans"
color_scale = alt.Scale(domain=CAUSES, range=COLORS)
legend = alt.Legend(title="Cause of death", orient="none", legendX=-91, legendY=1497,
                    direction="vertical", columns=4, symbolType="square", symbolSize=400,
                    symbolStrokeWidth=0, symbolOpacity=1, labelFontSize=17, labelColor="#333",
                    labelFont=FONT, titleFont=FONT,
                    titleFontSize=15, titleFontWeight="bold", titleColor="#111",
                    rowPadding=10, columnPadding=9, gridAlign="all", labelOffset=9,
                    labelLimit=400, titlePadding=6)


def make_panel(key, title, right):
    w = 572 if right else 580
    xmax = 2018.46 if right else 2019
    return alt.Chart(df[df.panel == key]).mark_area(clip=True, strokeWidth=0.5).encode(
        x=alt.X("year:Q", scale=alt.Scale(domain=[1980, xmax], nice=False, zero=False),
                axis=alt.Axis(values=list(range(1980, 2020, 5)), format="d", title=None,
                              grid=False, labelFlush=True, labelFlushOffset=-3,
                              domainWidth=1.5, labelPadding=10)),
        y=alt.Y("deaths:Q", stack="zero", scale=alt.Scale(domain=[0, 139000], nice=False),
                axis=alt.Axis(values=[0, 50000, 100000], labelExpr="datum.value/1000 + 'K'",
                              title="Number of deaths", grid=False, labelFlush=True,
                              labelFlushOffset=-3, domainColor="#999")),
        color=alt.Color("cause:N", scale=color_scale, legend=legend),
        stroke=alt.Stroke("cause:N", scale=color_scale, legend=None),
        order=alt.Order("rank:Q", sort="descending"),
    ).properties(width=w, height=401,
                 title=alt.TitleParams(title, anchor="start", dx=-9, offset=18))


rows_charts = []
for i in range(0, 6, 2):
    a = make_panel(*PANELS[i])
    b = make_panel(*PANELS[i + 1])
    rows_charts.append(alt.hconcat(a, b, spacing=27))

chart = alt.vconcat(*rows_charts, spacing=41).configure(
    font=FONT, padding={"left": 0, "top": 0, "right": 0, "bottom": 0}
).configure_axis(
    labelFontSize=16, labelColor="#333", titleFontSize=16, titleColor="#333",
    titleFontWeight="normal", tickColor="#333", domainColor="#333", tickSize=8,
    labelPadding=5, titlePadding=10, labelFont=FONT, titleFont=FONT
).configure_view(stroke=None).configure_title(
    fontSize=19.8, color="#555", fontWeight="normal", font=FONT, anchor="start"
)

chart.save("out.html", embed_options={"renderer": "svg", "actions": False})
